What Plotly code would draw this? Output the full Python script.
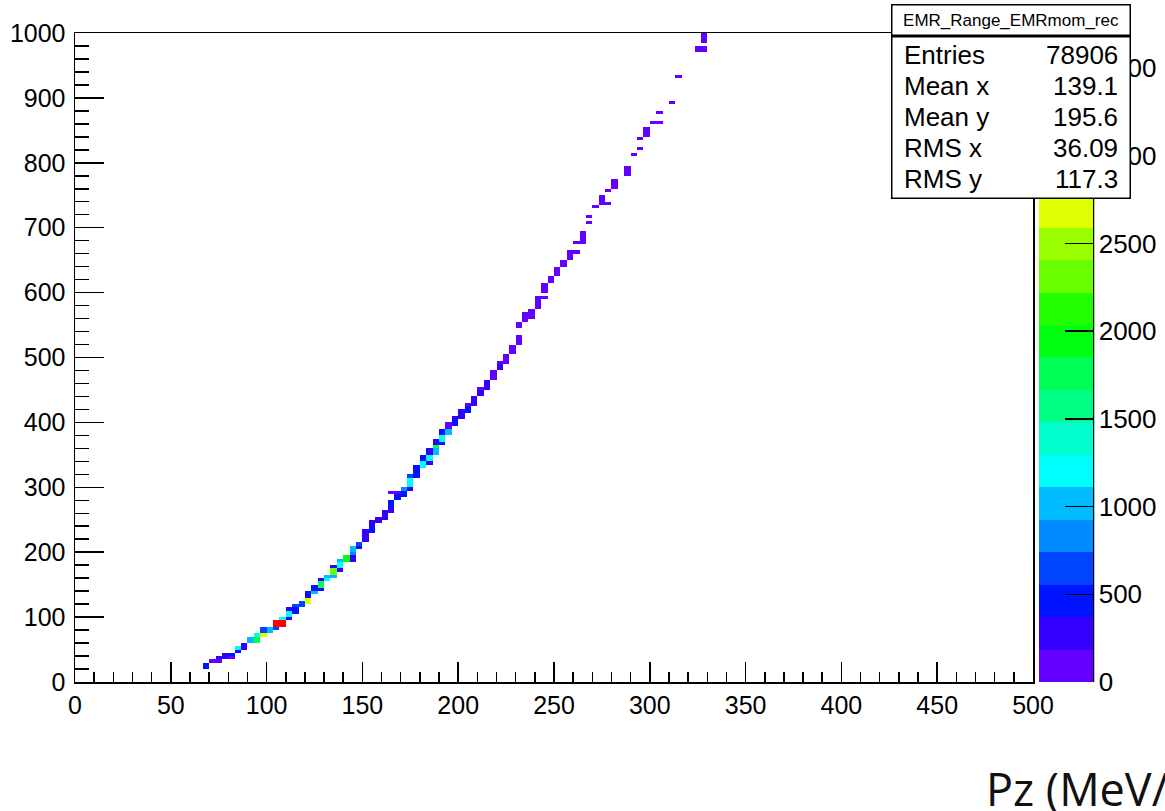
import colorsys
import numpy as np
import plotly.graph_objects as go

# ---------------- data ----------------
hist_name = "EMR_Range_EMRmom_rec"
stats_labels = ["Entries", "Mean x", "Mean y", "RMS x", "RMS y"]
stats_values = ["78906", "139.1", "195.6", "36.09", "117.3"]
x_title = "Pz (MeV/c)"

x_tick_vals = [0, 50, 100, 150, 200, 250, 300, 350, 400, 450, 500]
y_tick_vals = [0, 100, 200, 300, 400, 500, 600, 700, 800, 900, 1000]
z_tick_vals = [0, 500, 1000, 1500, 2000, 2500, 3000, 3500]

# filled cells: Pz of the column, range span (low, high) and bin content
cell_pz = [
    68.3, 71.7, 75, 75, 78.3, 81.7, 81.7, 85, 85, 88.3,
    91.7, 95, 95, 98.3, 98.3, 101.7, 105, 105, 108.3, 108.3,
    111.7, 111.7, 111.7, 115, 115, 118.3, 121.7, 121.7, 125, 125,
    128.3, 128.3, 128.3, 131.7, 131.7, 135, 135, 135, 138.3, 138.3,
    138.3, 141.7, 145, 145, 145, 148.3, 148.3, 151.7, 155, 155,
    158.3, 161.7, 165, 165, 165, 168.3, 168.3, 171.7, 171.7, 175,
    175, 175, 178.3, 178.3, 181.7, 181.7, 185, 185, 185, 188.3,
    188.3, 188.3, 191.7, 191.7, 191.7, 195, 195,
    198.3, 198.3, 201.7, 205, 205, 208.3, 211.7, 211.7, 215, 218.3,
    221.7, 221.7, 225, 228.3, 231.7, 231.7,
    235, 238.3, 241.7, 245, 245, 248.3, 251.7, 255, 258.3, 261.7,
    261.7, 265, 268.3, 268.3, 271.7, 275, 278.3, 278.3, 281.7, 288.3,
    291.7, 295, 295, 298.3, 301.7, 305, 305, 311.7, 315, 325,
    328.3, 328.3,
]
cell_range_lo = [
    20, 30, 30, 35, 35, 35, 40, 45, 50, 50,
    60, 60, 70, 70, 75, 75, 80, 85, 85, 95,
    95, 100, 110, 105, 115, 115, 120, 130, 135, 140,
    140, 145, 155, 155, 160, 160, 165, 175, 170, 175,
    185, 185, 185, 195, 200, 205, 210, 215, 230, 240,
    245, 250, 260, 270, 290, 280, 290, 285, 295, 295,
    300, 315, 315, 325, 330, 340, 335, 340, 350, 350,
    360, 365, 365, 370, 380, 380, 390,
    395, 405, 405, 415, 425, 425, 440, 450, 450, 465,
    480, 490, 490, 505, 520, 545,
    555, 560, 575, 590, 600, 615, 625, 640, 650, 660,
    675, 675, 705, 715, 730, 735, 735, 755, 760, 780,
    810, 820, 835, 840, 860, 860, 875, 890, 930, 970,
    970, 985,
]
cell_range_hi = [
    30, 35, 35, 40, 45, 40, 45, 50, 55, 60,
    70, 70, 75, 75, 85, 85, 85, 95, 95, 100,
    100, 110, 115, 115, 120, 125, 130, 140, 140, 150,
    145, 155, 160, 160, 165, 165, 175, 180, 175, 185,
    190, 195, 195, 200, 210, 210, 215, 235, 240, 250,
    255, 265, 270, 280, 295, 290, 295, 295, 300, 300,
    315, 320, 325, 335, 340, 350, 340, 350, 360, 360,
    365, 375, 370, 380, 390, 390, 400,
    405, 410, 420, 425, 430, 440, 450, 455, 465, 480,
    490, 495, 505, 520, 535, 555,
    570, 575, 595, 595, 615, 625, 640, 650, 665, 665,
    680, 695, 710, 720, 735, 750, 740, 760, 775, 795,
    815, 825, 840, 855, 865, 865, 880, 895, 935, 980,
    980, 1000,
]
cell_counts = [
    460, 150, 150, 200, 200, 180, 460, 460, 1200, 280,
    1020, 1760, 1390, 2680, 650, 1020, 650, 3650, 3700, 1200,
    280, 1110, 280, 460, 650, 650, 2680, 460, 1020, 460,
    460, 1760, 280, 1200, 1020, 1020, 2310, 280, 280, 1200,
    1020, 1940, 280, 900, 1020, 460, 650, 280, 460, 280,
    280, 280, 280, 460, 100, 460, 100, 460, 900, 280,
    1200, 650, 460, 460, 1200, 460, 280, 1200, 280, 1020,
    1760, 280, 460, 1200, 460, 1020, 150,
    460, 280, 280, 460, 150, 280, 280, 150, 280, 150,
    280, 120, 150, 150, 120, 100,
    120, 120, 100, 60, 100, 80, 90, 70, 90, 40,
    50, 90, 50, 50, 60, 80, 40, 50, 60, 60,
    40, 40, 40, 50, 40, 40, 40, 30, 30, 30,
    30, 30,
]

# ---------------- histogram binning ----------------
NX, NY = 150, 200
XMIN, XMAX, YMIN, YMAX = 0.0, 500.0, 0.0, 1000.0
DX = (XMAX - XMIN) / NX
DY = (YMAX - YMIN) / NY

z = np.full((NY, NX), np.nan)
for pz, lo, hi, c in zip(cell_pz, cell_range_lo, cell_range_hi, cell_counts):
    ix = int((pz - XMIN) // DX)
    for iy in range(int(round((lo - YMIN) / DY)), int(round((hi - YMIN) / DY))):
        z[iy, ix] = c

ZMAX = max(cell_counts)

# ROOT "pretty palette" (50 colours) drawn with 20 contour levels
NCOL, NDIV = 50, 20


def pretty_colour(i):
    hue = 280.0 - (i + 1) * 280.0 / NCOL
    r, g, b = colorsys.hls_to_rgb((hue % 360.0) / 360.0, 0.5, 1.0)
    return "rgb(%d,%d,%d)" % (round(r * 255), round(g * 255), round(b * 255))


colorscale = []
for k in range(NDIV):
    col = pretty_colour(int((k + 0.99) * NCOL / NDIV))
    colorscale.append([k / NDIV, col])
    colorscale.append([(k + 1) / NDIV, col])

# ---------------- geometry helpers (pixels -> paper) ----------------
W, H = 1165, 811
L, R, T, B = 75, 1033, 33, 682


def px(xp):
    return (xp - L) / (R - L)


def py(yp):
    return (B - yp) / (B - T)


ROOT_FONT = "Liberation Sans, Arial, Helvetica, sans-serif"

fig = go.Figure()
fig.add_trace(go.Heatmap(
    z=z,
    x0=XMIN + DX / 2, dx=DX,
    y0=YMIN + DY / 2, dy=DY,
    zmin=0, zmax=ZMAX,
    colorscale=colorscale,
    hoverinfo="skip",
    colorbar=dict(
        thickness=54, thicknessmode="pixels",
        len=1, lenmode="fraction", y=0.5, yanchor="middle", ypad=0,
        x=px(1039), xanchor="left", xpad=0, xref="paper",
        outlinewidth=0,
        tickmode="array", tickvals=z_tick_vals,
        ticktext=[str(v) for v in z_tick_vals],
        ticks="inside", ticklen=28, tickwidth=1.5, tickcolor="black",
        tickfont=dict(family=ROOT_FONT, size=26, color="black"),
    ),
))

axis_common = dict(
    showgrid=False, zeroline=False, showline=True, linecolor="black",
    linewidth=1.5, mirror=True, ticks="inside", tickwidth=1.5,
    tickcolor="black", tickfont=dict(family=ROOT_FONT, size=25, color="black"),
)

fig.update_layout(
    width=W, height=H,
    margin=dict(l=L, r=W - R, t=T, b=H - B, pad=0, autoexpand=False),
    paper_bgcolor="white", plot_bgcolor="white",
    showlegend=False,
    xaxis=dict(
        range=[XMIN, XMAX], tickmode="array", tickvals=x_tick_vals,
        ticktext=[str(v) for v in x_tick_vals], ticklen=20,
        ticklabelstandoff=0,
        minor=dict(tickmode="linear", tick0=0, dtick=10, ticks="inside",
                   ticklen=10, tickwidth=1.5, tickcolor="black", showgrid=False),
        **axis_common,
    ),
    yaxis=dict(
        range=[YMIN, YMAX], tickmode="array", tickvals=y_tick_vals,
        ticktext=[str(v) for v in y_tick_vals], ticklen=29,
        ticklabelstandoff=3,
        minor=dict(tickmode="linear", tick0=0, dtick=20, ticks="inside",
                   ticklen=14, tickwidth=1.5, tickcolor="black", showgrid=False),
        **axis_common,
    ),
)

# palette axis line (right side of the colour bar)
fig.add_shape(type="line", xref="paper", yref="paper",
              x0=px(1093.5), x1=px(1093.5), y0=0, y1=1,
              line=dict(color="black", width=1.5), layer="above")

# ---------------- stats box ----------------
BOX_L, BOX_R, BOX_T, BOX_SEP, BOX_B = 891, 1131, 4, 36, 199
BW = 1.5
fig.add_annotation(
    xref="paper", yref="paper", x=px(BOX_L), y=py(BOX_SEP),
    xanchor="left", yanchor="top", showarrow=False, text=" ",
    width=BOX_R - BOX_L - 2 * BW, height=BOX_B - BOX_SEP - 2 * BW,
    bgcolor="white", bordercolor="black", borderwidth=BW, borderpad=0,
)
fig.add_annotation(
    xref="paper", yref="paper", x=px(BOX_L), y=py(BOX_T),
    xanchor="left", yanchor="top", showarrow=False, text=hist_name,
    width=BOX_R - BOX_L - 2 * BW, height=BOX_SEP - BOX_T - 2 * BW,
    bgcolor="white", bordercolor="black", borderwidth=BW, borderpad=0,
    font=dict(family=ROOT_FONT, size=17, color="black"), align="center",
)
row_centres = [55, 86, 117, 148, 179]
for lab, val, yc in zip(stats_labels, stats_values, row_centres):
    fig.add_annotation(xref="paper", yref="paper", x=px(902), y=py(yc),
                       xanchor="left", yanchor="middle", showarrow=False,
                       text=lab, font=dict(family=ROOT_FONT, size=26, color="black"))
    fig.add_annotation(xref="paper", yref="paper", x=px(1120), y=py(yc),
                       xanchor="right", yanchor="middle", showarrow=False,
                       text=val, font=dict(family=ROOT_FONT, size=26, color="black"))

# x-axis title (from the slide, partly cut by the image edge)
fig.add_annotation(xref="paper", yref="paper", x=px(984), y=py(789),
                   xanchor="left", yanchor="middle", showarrow=False,
                   text=x_title, font=dict(family="Open Sans, Lato, sans-serif",
                                           size=45, color="#111111"))

fig.write_html(
    "out.html",
    config={"displayModeBar": False, "staticPlot": True},
    post_script="document.body.style.margin='0px';document.body.style.overflow='hidden';",
)
